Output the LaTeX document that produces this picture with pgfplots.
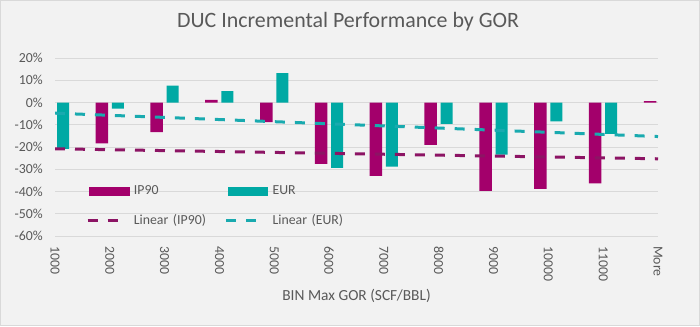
\documentclass[border=0pt]{standalone}
\usepackage{fontspec}
\setmainfont{Carlito}
\usepackage{pgfplots}
\pgfplotsset{compat=1.18}
\definecolor{ipc}{RGB}{163,0,107}
\definecolor{eurc}{RGB}{0,169,164}
\definecolor{iptr}{RGB}{140,20,100}
\definecolor{eurtr}{RGB}{25,170,175}
\definecolor{bg}{RGB}{242,242,242}
\definecolor{grd}{RGB}{217,217,217}
\definecolor{txt}{RGB}{89,89,89}
\begin{document}
\begin{tikzpicture}[x=1pt,y=1pt]
\fill[bg] (0,0) rectangle (700,326);
\draw[grd, line width=0.75pt] (0.4,0.4) rectangle (699.6,325.6);
\begin{axis}[
  at={(55pt,90pt)}, anchor=south west,
  scale only axis, width=603pt, height=178pt,
  xmin=0, xmax=11, ymin=-60, ymax=20,
  xtick={0,...,11},
  xticklabels={1000,2000,3000,4000,5000,6000,7000,8000,9000,10000,11000,More},
  ytick={-60,-50,...,20},
  yticklabels={-60\%,-50\%,-40\%,-30\%,-20\%,-10\%,0\%,10\%,20\%},
  axis line style={draw=none},
  tick style={draw=none},
  ymajorgrids, major grid style={grd, line width=0.75pt},
  ticklabel style={font=\fontsize{13.8}{16}\selectfont, text=txt, inner sep=0pt},
  yticklabel style={anchor=east, xshift=-12pt},
  xticklabel style={rotate=-90, anchor=west},
  xticklabel shift=10pt,
  title={DUC Incremental Performance by GOR},
  title style={at={(0.486,1)}, anchor=base, yshift=24.7pt, font=\fontsize{21.9}{26}\selectfont, text=txt, inner sep=0pt},
  xlabel={BIN Max GOR (SCF/BBL)},
  xlabel style={at={(0.5,0)}, anchor=center, yshift=-60pt, font=\fontsize{15.4}{18}\selectfont, text=txt, inner sep=0pt},
  legend columns=2,
  legend cell align=left,
  legend style={draw=none, fill=none, at={(0.0514,0.29)}, anchor=north west, inner sep=0pt,
    row sep=16pt,
    nodes={font=\fontsize{13.8}{16}\selectfont, text=txt, inner xsep=5pt, inner ysep=0pt, text width=86pt, text height=10pt, text depth=3.5pt}},
]
\addlegendimage{legend image code/.code={\fill[ipc] (0pt,-3.7pt) rectangle (39pt,3.7pt);}}
\addlegendentry{IP90}
\addlegendimage{legend image code/.code={\fill[eurc] (0pt,-3.7pt) rectangle (39pt,3.7pt);}}
\addlegendentry{EUR}
\addlegendimage{legend image code/.code={\draw[iptr, line width=3pt, dash pattern=on 10pt off 10pt] (-2pt,0pt) -- (28pt,0pt);}}
\addlegendentry{Linear (IP90)}
\addlegendimage{legend image code/.code={\draw[eurtr, line width=3pt, dash pattern=on 10pt off 10pt] (-2pt,0pt) -- (28pt,0pt);}}
\addlegendentry{Linear (EUR)}

\addplot[ybar, bar width=12.5pt, bar shift=-8pt, fill=ipc, draw=none, forget plot] table {
x y
1 -18.4
2 -13.3
3 1.2
4 -8.8
5 -27.6
6 -33.0
7 -19.0
8 -39.7
9 -38.8
10 -36.3
11 0.6
};
\addplot[ybar, bar width=12pt, bar shift=8pt, fill=eurc, draw=none, forget plot] table {
x y
0 -20.8
1 -2.8
2 7.6
3 5.1
4 13.2
5 -29.4
6 -28.8
7 -9.6
8 -23.4
9 -8.5
10 -14.1
};
\addplot[iptr, line width=3pt, dash pattern=on 10pt off 10pt, forget plot] coordinates {(0,-20.8) (11,-25.3)};
\addplot[eurtr, line width=3pt, dash pattern=on 10pt off 10pt, forget plot] coordinates {(0,-4.8) (11,-15.3)};
\end{axis}
\end{tikzpicture}
\end{document}
